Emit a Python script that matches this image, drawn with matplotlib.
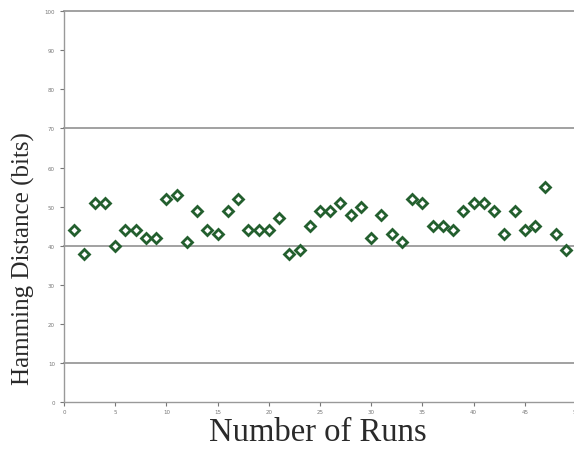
import matplotlib
matplotlib.use("Agg")
import matplotlib.pyplot as plt

runs = list(range(1, 50))
hamming = [44, 38, 51, 51, 40, 44, 44, 42, 42, 52, 53, 41, 49, 44, 43, 49, 52, 44, 44, 44,
           47, 38, 39, 45, 49, 49, 51, 48, 50, 42, 48, 43, 41, 52, 51, 45, 45, 44, 49, 51,
           51, 49, 43, 49, 44, 45, 55, 43, 39]
xticks = [0, 5, 10, 15, 20, 25, 30, 35, 40, 45, 50]
yticks = [0, 10, 20, 30, 40, 50, 60, 70, 80, 90, 100]
hlines = [10, 40, 70, 100]

fig = plt.figure(figsize=(5.74, 4.52), dpi=100)
ax = fig.add_axes([64 / 574, 0.108, 512 / 574, 0.865])

for h in hlines:
    ax.axhline(h, color="#9a9a9a", lw=1.3, zorder=1, clip_on=False)

ax.plot(runs, hamming, linestyle="none", marker="D", markersize=5.5,
        markerfacecolor="white", markeredgecolor="#235f2e", markeredgewidth=2, zorder=3)

ax.set_xlim(0, 50)
ax.set_ylim(0, 100)
ax.set_xticks(xticks)
ax.set_yticks(yticks)
ax.tick_params(labelsize=4, colors="#777777", length=3, width=0.8)
ax.tick_params(axis="x", pad=2)
for s in ["top", "right"]:
    ax.spines[s].set_visible(False)
for s in ["left", "bottom"]:
    ax.spines[s].set_color("#999999")
    ax.spines[s].set_linewidth(1.0)

ax.set_xlabel("Number of Runs", family="Liberation Serif", fontsize=23.5, color="#2a2a2a")
ax.set_ylabel("Hamming Distance (bits)", family="Liberation Serif", fontsize=18, color="#2a2a2a")
ax.xaxis.set_label_coords(0.496, -0.036)
ax.yaxis.set_label_coords(-0.057, 0.37)

fig.savefig("out.png", dpi=100)
